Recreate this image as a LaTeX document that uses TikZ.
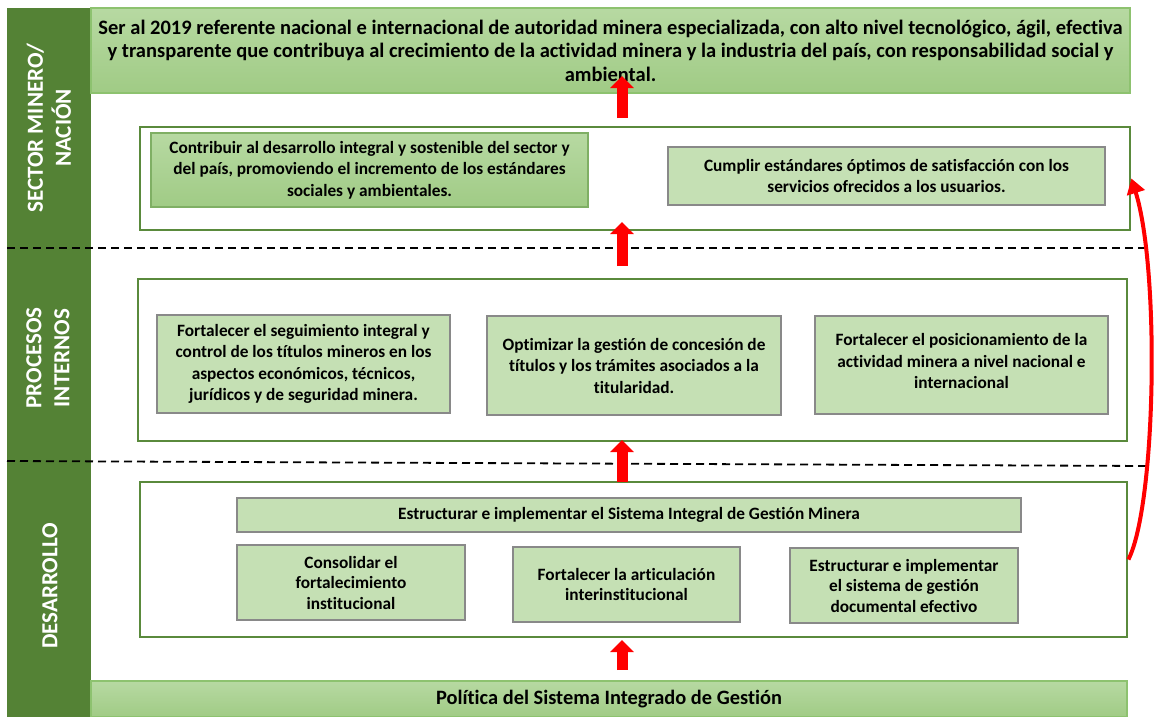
\documentclass[tikz,border=0pt]{standalone}
\usepackage{fontspec}
\setmainfont{Carlito}[Ligatures=NoCommon]
\usetikzlibrary{arrows.meta}
\definecolor{bandgreen}{HTML}{548235}
\definecolor{framegreen}{HTML}{5A8A3C}
\definecolor{palegreen}{HTML}{C5E0B4}
\definecolor{lightedge}{HTML}{8DC26F}
\definecolor{greyedge}{HTML}{898989}
\definecolor{shadetop}{HTML}{B7D9A2}
\definecolor{shadebot}{HTML}{A0CB85}
\begin{document}
\begin{tikzpicture}[x=1pt, y=-1pt,
  band/.style={fill=bandgreen, draw=none},
  bandtext/.style={text=white, rotate=90, align=center, font=\bfseries\fontsize{23}{28}\selectfont},
  frame/.style={draw=framegreen, line width=2.8pt, inner sep=0pt},
  goal/.style={draw=greyedge, line width=1.3pt, fill=palegreen, inner sep=0pt, align=center, font=\bfseries\fontsize{17.3}{21.5}\selectfont},
  shadegoal/.style={draw=lightedge, line width=1.3pt, top color=shadetop, bottom color=shadebot, inner sep=0pt, align=center},
  divider/.style={draw=black, line width=1.8pt, dash pattern=on 8pt off 5pt},
  uparrow/.style={draw=red, line width=11pt, -{Triangle[width=23pt,length=12pt]}},
  backarrow/.style={draw=red, line width=4pt, -{Triangle[width=18pt,length=15pt]}}]
\useasboundingbox (0,0) rectangle (1156,717);
% perspectives on the left
\path[band] (7,8) rectangle (91,717);
\node[bandtext] (tsector) at (49,128) {SECTOR MINERO/\\NACIÓN};
\node[bandtext] (tprocess) at (48,358) {PROCESOS\\INTERNOS};
\node[bandtext] (tdev) at (50,586) {DESARROLLO};
% vision and policy
\node[shadegoal, minimum width=1039pt, minimum height=85pt, font=\bfseries\fontsize{20.5}{23.5}\selectfont] (vision) at (610.5,50.5) {Ser al 2019 referente nacional e internacional de autoridad minera especializada, con alto nivel tecnológico, ágil, efectiva\\y transparente que contribuya al crecimiento de la actividad minera y la industria del país, con responsabilidad social y\\ambiental.};
\node[shadegoal, minimum width=1036pt, minimum height=36pt, font=\bfseries\fontsize{20.4}{22}\selectfont] (policy) at (609,699) {Política del Sistema Integrado de Gestión};
% frames
\node[frame, minimum width=990pt, minimum height=103pt] (sector) at (635,178.5) {};
\node[frame, minimum width=989pt, minimum height=162pt] (process) at (632.5,360) {};
\node[frame, minimum width=987pt, minimum height=155pt] (dev) at (633.5,559.5) {};
% sector goals
\node[shadegoal, draw=lightedge!90!black, minimum width=437pt, minimum height=74pt, font=\bfseries\fontsize{17.3}{21.5}\selectfont] (s1) at (369.5,170) {Contribuir al desarrollo integral y sostenible del sector y\\del país, promoviendo el incremento de los estándares\\sociales y ambientales.};
\node[goal, minimum width=437pt, minimum height=58pt] (s2) at (886.5,176) {Cumplir estándares óptimos de satisfacción con los\\servicios ofrecidos a los usuarios.};
% process goals
\node[goal, minimum width=293pt, minimum height=98pt] (p1) at (303.5,364) {Fortalecer el seguimiento integral y\\control de los títulos mineros en los\\aspectos económicos, técnicos,\\jurídicos y de seguridad minera.};
\node[goal, minimum width=294pt, minimum height=99pt] (p2) at (634,365.5) {Optimizar la gestión de concesión de\\títulos y los trámites asociados a la\\titularidad.};
\node[goal, minimum width=293pt, minimum height=98pt, text depth=8pt] (p3) at (961.5,365) {Fortalecer el posicionamiento de la\\actividad minera a nivel nacional e\\internacional};
% development goals
\node[goal, minimum width=784pt, minimum height=34pt] (d0) at (629,515) {Estructurar e implementar el Sistema Integral de Gestión Minera};
\node[goal, minimum width=228pt, minimum height=75pt, font=\bfseries\fontsize{17.3}{20.5}\selectfont] (d1) at (351,582.5) {Consolidar el\\fortalecimiento\\institucional};
\node[goal, minimum width=227pt, minimum height=75pt, font=\bfseries\fontsize{17.3}{20.5}\selectfont] (d2) at (626.5,584.5) {Fortalecer la articulación\\interinstitucional};
\node[goal, minimum width=228pt, minimum height=75pt, font=\bfseries\fontsize{17.3}{20.5}\selectfont] (d3) at (904,585.5) {Estructurar e implementar\\el sistema de gestión\\documental efectivo};
% dividers
\coordinate (div1l) at (7,248);
\coordinate (div1r) at (1150,248);
\coordinate (div2l) at (7,461);
\coordinate (div2r) at (1150,466);
\draw[divider] (div1l) -- (div1r);
\draw[divider] (div2l) -- (div2r);
% arrows
\coordinate (a1s) at (622,118);
\coordinate (a1e) at (622,76);
\coordinate (a2s) at (622,266);
\coordinate (a2e) at (622,222);
\coordinate (a3s) at (622,482);
\coordinate (a3e) at (622,440);
\coordinate (a4s) at (622,670);
\coordinate (a4e) at (622,640);
\draw[uparrow] (a1s) -- (a1e);
\draw[uparrow] (a2s) -- (a2e);
\draw[uparrow] (a3s) -- (a3e);
\draw[uparrow] (a4s) -- (a4e);
\draw[backarrow] (dev.east) .. controls (1156,505) and (1160,270) .. (sector.east);
\end{tikzpicture}
\end{document}
